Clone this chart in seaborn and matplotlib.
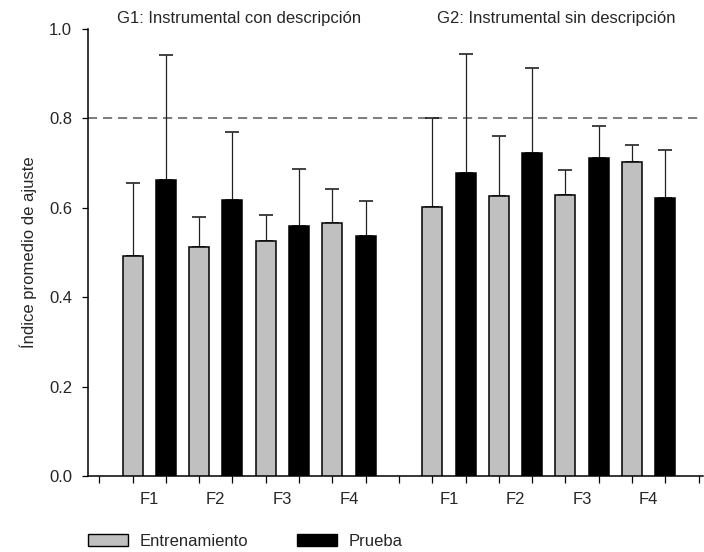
import matplotlib
matplotlib.use("Agg")
import matplotlib.pyplot as plt
from matplotlib.patches import Patch
import seaborn as sns
import pandas as pd
import numpy as np

# bar positions on the x axis (one unit per tick)
pos_train = [1, 3, 5, 7, 10, 12, 14, 16]
pos_test = [2, 4, 6, 8, 11, 13, 15, 17]

# means (G1 F1..F4, G2 F1..F4)
mean_train = [0.492, 0.513, 0.526, 0.565, 0.602, 0.627, 0.629, 0.702]
mean_test = [0.662, 0.617, 0.560, 0.537, 0.677, 0.723, 0.711, 0.623]

# upper error (cap height minus mean)
err_train = [0.163, 0.067, 0.057, 0.078, 0.198, 0.134, 0.056, 0.039]
err_test = [0.280, 0.153, 0.127, 0.079, 0.268, 0.189, 0.073, 0.107]

phase_labels = ["F1", "F2", "F3", "F4", "F1", "F2", "F3", "F4"]
group_titles = ["G1: Instrumental con descripción", "G2: Instrumental sin descripción"]
conditions = ["Entrenamiento", "Prueba"]
criterion = 0.8

df = pd.DataFrame({
    "pos": pos_train + pos_test,
    "media": mean_train + mean_test,
    "cond": [conditions[0]] * len(pos_train) + [conditions[1]] * len(pos_test),
})

sns.set_style("ticks")
plt.rcParams["font.family"] = ["Liberation Sans", "DejaVu Sans"]
plt.rcParams["font.size"] = 12

fig = plt.figure(figsize=(7.04, 5.52), dpi=100)
ax = fig.add_axes([87.5 / 704, 76 / 552, 615.5 / 704, 447 / 552])

colors = {conditions[0]: "#c0c0c0", conditions[1]: "#000000"}
sns.barplot(data=df, x="pos", y="media", hue="cond", palette=colors,
            native_scale=True, dodge=False, width=0.6, errorbar=None,
            edgecolor="black", linewidth=1.1, legend=False, ax=ax, zorder=3)

for p, m, e in [(pos_train, mean_train, err_train), (pos_test, mean_test, err_test)]:
    ax.errorbar(p, m, yerr=[np.zeros(len(e)), e], fmt="none", ecolor="#222222",
                elinewidth=0.9, capsize=4.7, capthick=1.2, zorder=2)

ax.axhline(criterion, color="#666666", lw=1.2, dashes=(5.5, 3.5), zorder=1)

ax.set_xlim(-0.354, 18.13)
ax.set_ylim(0, 1.0)
ax.set_xticks(range(19))
ax.set_xticklabels([])
ax.set_yticks([0.0, 0.2, 0.4, 0.6, 0.8, 1.0])
ax.set_yticklabels(["0.0", "0.2", "0.4", "0.6", "0.8", "1.0"])
ax.tick_params(axis="x", direction="out", length=5, width=0.9, color="black")
ax.tick_params(axis="y", direction="out", length=4, width=0.9, color="black",
               pad=7, labelsize=12)
ax.set_xlabel("")
ax.set_ylabel("Índice promedio de ajuste", fontsize=12, labelpad=9)
sns.despine(ax=ax)
for s in ["left", "bottom"]:
    ax.spines[s].set_linewidth(1.1)
    ax.spines[s].set_color("black")

# phase labels under each pair of bars
centers = [(a + b) / 2 for a, b in zip(pos_train, pos_test)]
trans = ax.get_xaxis_transform()
for c, lab in zip(centers, phase_labels):
    ax.text(c, -24 / 447, lab, transform=trans, ha="center", va="center", fontsize=12)

# group titles
ax.text(4.2, 1 + 11 / 447, group_titles[0], transform=trans, ha="center",
        va="center", fontsize=12)
ax.text(13.73, 1 + 11 / 447, group_titles[1], transform=trans, ha="center",
        va="center", fontsize=12)

handles = [Patch(facecolor=colors[c], edgecolor="black", linewidth=1.0) for c in conditions]
fig.legend(handles, conditions, loc="center left", bbox_to_anchor=(88 / 704, 11 / 552),
           ncol=2, frameon=False, borderpad=0, borderaxespad=0, handlelength=2.4,
           handleheight=0.72, handletextpad=0.72, columnspacing=2.9, fontsize=12)

fig.savefig("out.png", dpi=100)
